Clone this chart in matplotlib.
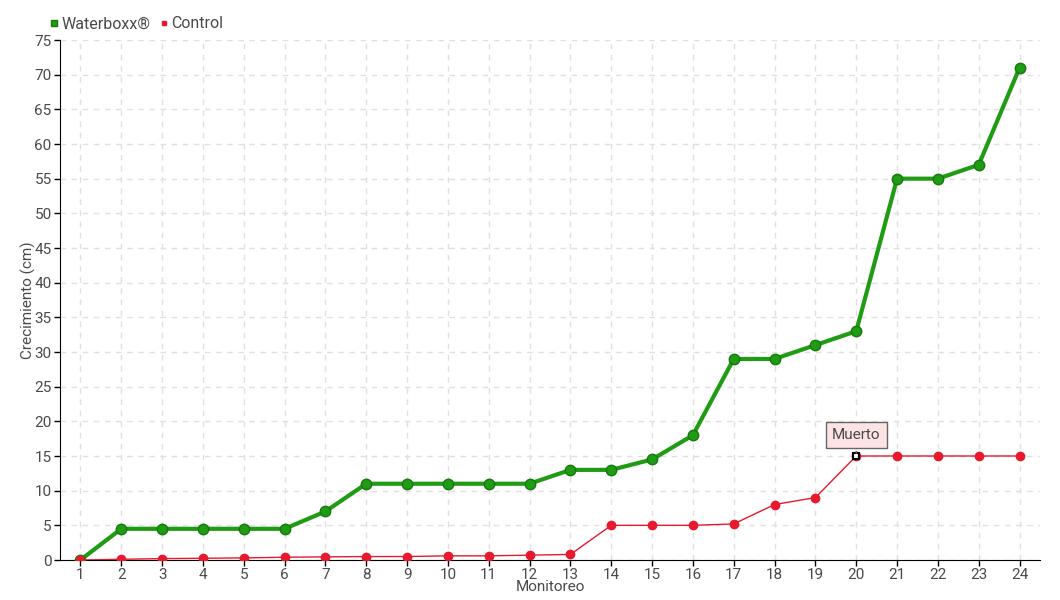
import matplotlib
matplotlib.use("Agg")
import matplotlib.pyplot as plt

monitoreo = list(range(1, 25))
waterboxx = [0, 4.5, 4.5, 4.5, 4.5, 4.5, 7, 11, 11, 11, 11, 11, 13, 13, 14.5, 18, 29, 29, 31, 33, 55, 55, 57, 71]
control = [0, 0.1, 0.2, 0.25, 0.3, 0.4, 0.45, 0.5, 0.5, 0.6, 0.6, 0.7, 0.8, 5, 5, 5, 5.2, 8, 9, 15, 15, 15, 15, 15]
y_ticks = list(range(0, 80, 5))
annot_idx = 19
annot_text = "Muerto"

plt.rcParams['font.family'] = ['Roboto', 'DejaVu Sans']

txt = "#4a4a4a"
green = "#1f9c14"
red = "#e8192c"

fig = plt.figure(figsize=(10.6, 6.0), dpi=100)
ax = fig.add_axes([60/1060, 40/600, 980/1060, 520/600])

ax.plot(monitoreo, waterboxx, color=green, lw=3.0, marker='o', ms=7.5,
        markerfacecolor=green, markeredgecolor="#17780d", markeredgewidth=1.0, zorder=3, label="Waterboxx®")
ax.plot(monitoreo, control, color=red, lw=1.0, marker='o', ms=6,
        markerfacecolor=red, markeredgecolor=red, zorder=4, label="Control")
ax.plot([monitoreo[annot_idx]], [control[annot_idx]], marker='s', ms=5, markerfacecolor='white',
        markeredgecolor='black', markeredgewidth=1.5, zorder=6, linestyle='none')

ax.set_xlim(0.5, 24.5)
ax.set_ylim(0, 75)
ax.set_xticks(monitoreo)
ax.set_yticks(y_ticks)
ax.grid(True, color="#e0e0e0", linestyle=(0, (4, 4)), lw=1)
ax.set_axisbelow(True)
for s in ['top', 'right']:
    ax.spines[s].set_visible(False)
ax.spines['left'].set_color('black')
ax.spines['bottom'].set_color('black')
ax.tick_params(axis='both', colors='black', labelcolor=txt, labelsize=11, length=4, width=1, pad=2)
ax.set_xlabel("Monitoreo", color=txt, fontsize=11, labelpad=-1.5)
ax.set_ylabel("Crecimiento (cm)", color=txt, fontsize=11, labelpad=-1)

ax.annotate(annot_text, xy=(monitoreo[annot_idx], control[annot_idx]), xytext=(0, 15),
            textcoords='offset points', ha='center', va='center', fontsize=11, color=txt,
            bbox=dict(boxstyle='square,pad=0.4', fc='#fde4e4', ec='#666666', lw=1),
            arrowprops=dict(arrowstyle='-', color='#666666', lw=1), zorder=7)

leg = fig.legend(handles=ax.get_lines()[:2], loc='upper left', bbox_to_anchor=(44/1060, 1 - 10/600),
                 ncol=2, frameon=False, fontsize=11.5, handlelength=0.5, handletextpad=0.2,
                 columnspacing=0.6, markerscale=0.6, borderaxespad=0)
for h in leg.legend_handles:
    h.set_linestyle('none')
    h.set_marker('s')
for t in leg.get_texts():
    t.set_color(txt)

fig.savefig("out.png", dpi=100)
